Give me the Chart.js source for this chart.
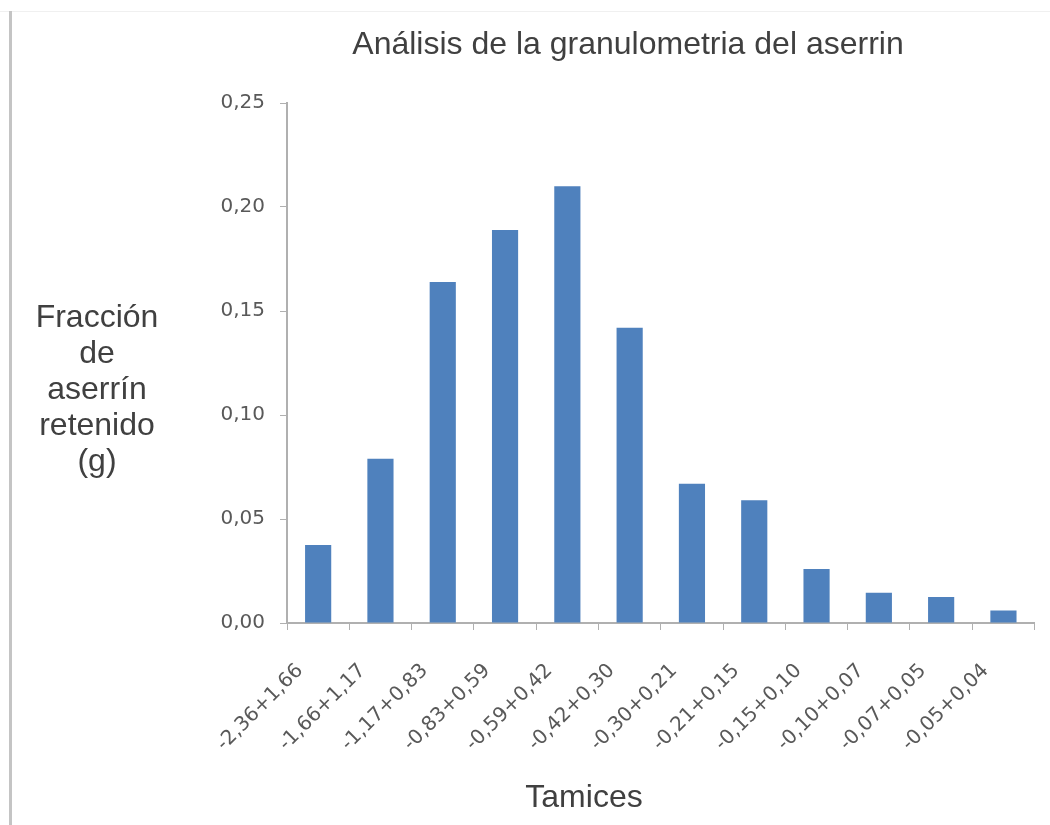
<!DOCTYPE html>
<html>
<head>
<meta charset="utf-8">
<script src="https://cdn.jsdelivr.net/npm/chart.js@4.4.1/dist/chart.umd.min.js"></script>
<style>
  html, body { margin: 0; padding: 0; background: #fff; }
  #wrap { position: relative; width: 1050px; height: 825px; }
  #frameTop { position: absolute; left: 0; top: 11px; width: 1050px; height: 1px; background: #f0f0f0; }
  #frameLeft { position: absolute; left: 9px; top: 11px; width: 3px; height: 814px; background: #c4c4c4; }
  canvas { position: absolute; left: 0; top: 0; }
</style>
</head>
<body>
<div id="wrap">
  <div id="frameTop"></div>
  <div id="frameLeft"></div>
  <canvas id="c" width="1050" height="825"></canvas>
</div>
<script>
const categories = ["-2,36+1,66", "-1,66+1,17", "-1,17+0,83", "-0,83+0,59", "-0,59+0,42", "-0,42+0,30",
                    "-0,30+0,21", "-0,21+0,15", "-0,15+0,10", "-0,10+0,07", "-0,07+0,05", "-0,05+0,04"];
const fraccion = [0.0375, 0.079, 0.164, 0.189, 0.210, 0.142, 0.067, 0.059, 0.026, 0.0145, 0.0125, 0.006];
const yTicks = [0, 0.05, 0.10, 0.15, 0.20, 0.25];
const chartTitle = "Análisis de la granulometria del aserrin";
const yTitleLines = ["Fracción", "de", "aserrín", "retenido", "(g)"];
const xTitle = "Tamices";

const titlesPlugin = {
  id: 'customTitles',
  afterDraw(chart) {
    const ctx = chart.ctx;
    ctx.save();
    ctx.fillStyle = '#404040';
    ctx.textAlign = 'center';
    ctx.textBaseline = 'alphabetic';
    // main title
    ctx.font = '32px "Liberation Sans", Arial, sans-serif';
    ctx.fillText(chartTitle, 628, 54);
    // y-axis title (horizontal, multi-line)
    ctx.font = '32px "Liberation Sans", Arial, sans-serif';
    yTitleLines.forEach((t, i) => ctx.fillText(t, 97, 327 + i * 36));
    // x-axis title
    ctx.font = '32px "Liberation Sans", Arial, sans-serif';
    ctx.fillText(xTitle, 584, 807);
    ctx.restore();
  }
};

new Chart(document.getElementById('c'), {
  type: 'bar',
  data: {
    labels: categories,
    datasets: [{
      data: fraccion,
      backgroundColor: '#4f81bd',
      categoryPercentage: 1.0,
      barPercentage: 0.42
    }]
  },
  options: {
    responsive: false,
    animation: false,
    layout: { padding: { left: 187, right: 14, top: 103, bottom: 0 } },
    plugins: {
      legend: { display: false },
      tooltip: { enabled: false },
      title: { display: false }
    },
    scales: {
      x: {
        grid: { display: true, drawOnChartArea: false, drawTicks: true, tickLength: 7, color: '#b0b0b0', offset: true },
        border: { display: true, color: '#b0b0b0', width: 2 },
        ticks: {
          color: '#595959',
          font: { family: '"DejaVu Sans", Verdana, sans-serif', size: 20 },
          maxRotation: 45, minRotation: 45,
          padding: 29,
          labelOffset: -18,
          autoSkip: false
        },
        afterFit(scale) { scale.height = 202; }
      },
      y: {
        min: 0, max: 0.25,
        afterBuildTicks(scale) { scale.ticks = yTicks.map(v => ({ value: v })); },
        grid: { display: true, drawOnChartArea: false, drawTicks: true, tickLength: 7, color: '#b0b0b0' },
        border: { display: true, color: '#b0b0b0', width: 2 },
        ticks: {
          color: '#595959',
          font: { family: '"DejaVu Sans", Verdana, sans-serif', size: 20 },
          padding: 15,
          callback: v => Number(v).toFixed(2).replace('.', ',')
        },
        afterFit(scale) { scale.width = 100; }
      }
    }
  },
  plugins: [titlesPlugin]
});
</script>
</body>
</html>
